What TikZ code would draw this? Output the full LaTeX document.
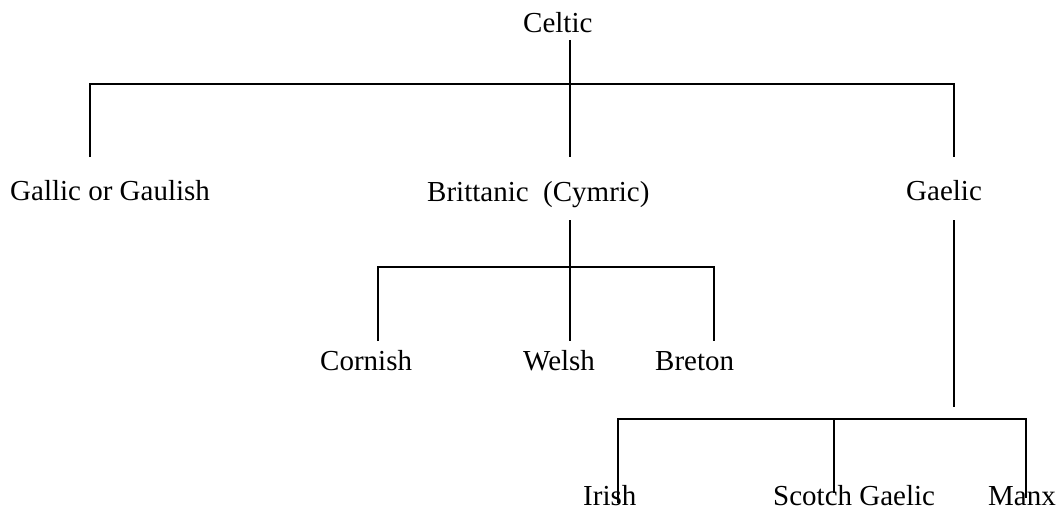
\documentclass[tikz,border=0pt]{standalone}
\usepackage{fontspec}
\setmainfont{Liberation Serif}
\begin{document}
\begin{tikzpicture}[x=1pt,y=-1pt,
  lang/.style={anchor=base west,inner sep=0pt,font=\fontsize{29}{34}\selectfont},
  branch/.style={draw=black,line width=2pt}]
\useasboundingbox[fill=white] (0,0) rectangle (1060,511);
% language nodes
\node[lang] (celtic) at (523,33) {Celtic};
\node[lang] (gallic) at (10,200) {Gallic or Gaulish};
\node[lang] (britt) at (427,201) {Brittanic\ \ (Cymric)};
\node[lang] (gaelic) at (906,200) {Gaelic};
\node[lang] (cornish) at (320,370) {Cornish};
\node[lang] (welsh) at (523,370) {Welsh};
\node[lang] (breton) at (655,370) {Breton};
\node[lang] (irish) at (583,505) {Irish};
\node[lang] (scotch) at (773,505) {Scotch Gaelic};
\node[lang] (manx) at (988,505) {Manx};
% junction coordinates
\coordinate (c0) at (570,40);
\coordinate (cj) at (570,84);
\coordinate (cl) at (90,84);
\coordinate (cr) at (954,84);
\coordinate (gallicTop) at (90,157);
\coordinate (brittTop) at (570,157);
\coordinate (gaelicTop) at (954,157);
\coordinate (b0) at (570,220);
\coordinate (bj) at (570,267);
\coordinate (bl) at (378,267);
\coordinate (br) at (714,267);
\coordinate (cornishTop) at (378,341);
\coordinate (welshTop) at (570,341);
\coordinate (bretonTop) at (714,341);
\coordinate (g0) at (954,220);
\coordinate (gend) at (954,407);
\coordinate (gl) at (618,419);
\coordinate (gm) at (834,419);
\coordinate (gr) at (1026,419);
\coordinate (irishEnd) at (618,503);
\coordinate (scotchEnd) at (834,493);
\coordinate (manxEnd) at (1026,498);
% connectors
\draw[branch] (c0) -- (brittTop);
\draw[branch] (gallicTop) -- (cl) -- (cr) -- (gaelicTop);
\draw[branch] (b0) -- (welshTop);
\draw[branch] (cornishTop) -- (bl) -- (br) -- (bretonTop);
\draw[branch] (g0) -- (gend);
\draw[branch] (irishEnd) -- (gl) -- (gr) -- (manxEnd);
\draw[branch] (gm) -- (scotchEnd);
\end{tikzpicture}
\end{document}
